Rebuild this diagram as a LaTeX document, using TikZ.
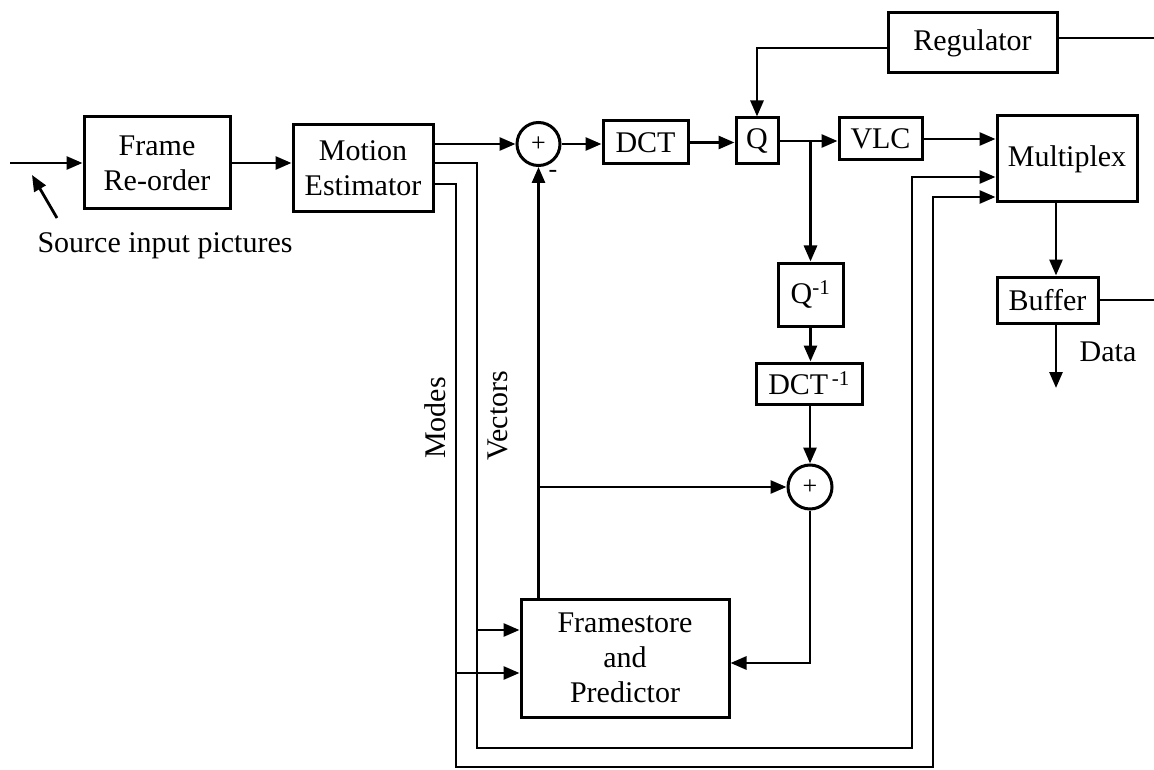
\documentclass[tikz,border=0pt]{standalone}
\usepackage{fontspec}
\setmainfont{Liberation Serif}
\usetikzlibrary{arrows.meta}
\begin{document}
\begin{tikzpicture}[x=1pt,y=-1pt,
  every node/.style={font=\fontsize{30}{35}\selectfont},
  blk/.style={draw,line width=3pt,inner sep=0pt,align=center},
  sumnode/.style={draw,circle,line width=3pt,inner sep=0pt,minimum size=43pt,font=\fontsize{26}{26}\selectfont},
  wire/.style={line width=2.8pt},
  arr/.style={wire,-{Triangle[length=16pt,width=13pt]}}]
\useasboundingbox[fill=white] (0,0) rectangle (1154,770);

% blocks
\node[blk,minimum width=146pt,minimum height=92pt] (FR) at (157,163) {Frame\\Re-order};
\node[blk,minimum width=140pt,minimum height=87pt] (ME) at (363,168.5) {Motion\\Estimator};
\node[sumnode] (A1) at (538.5,144) {+};
\node[blk,minimum width=85pt,minimum height=43pt] (DCT) at (645.5,142.5) {DCT};
\node[blk,minimum width=42pt,minimum height=46pt] (Q) at (757,141) {Q};
\node[blk,minimum width=83pt,minimum height=42pt] (VLC) at (880.5,139) {VLC};
\node[blk,minimum width=140pt,minimum height=86pt] (MUX) at (1067,159) {Multiplex};
\node[blk,minimum width=169pt,minimum height=60pt] (REG) at (972.5,43) {Regulator};
\node[blk,minimum width=101pt,minimum height=46pt] (BUF) at (1047.5,300) {Buffer};
\node[blk,minimum width=65pt,minimum height=63pt] (QI) at (810.5,294.5) {Q\textsuperscript{-1}};
\node[blk,minimum width=106pt,minimum height=41pt] (DCTI) at (809,383.5) {DCT\textsuperscript{\,-1}};
\node[sumnode,minimum size=44pt] (A2) at (810,487) {+};
\node[blk,minimum width=208pt,minimum height=118pt] (FS) at (625,658) {Framestore\\and\\Predictor};

% labels
\node[anchor=base] (src) at (165,253) {Source input pictures};
\node (data) at (1108,352) {Data};
\node[rotate=90] (modes) at (435,418) {Modes};
\node[rotate=90] (vectors) at (498,416) {Vectors};
\node[font=\fontsize{26}{26}\selectfont] (minus) at (553,174) {-};

% free-end coordinates
\coordinate (in) at (10,163);
\coordinate (srcA) at (57,218);
\coordinate (srcB) at (32,175);
\coordinate (regR) at (1154,38);
\coordinate (bufR) at (1154,300);
\coordinate (mb) at (1056,0);
\coordinate (dataE) at (1056,388);
\coordinate (v1) at (477,163);
\coordinate (v2) at (477,748);
\coordinate (v3) at (912,748);
\coordinate (v4) at (912,177);
\coordinate (vb) at (477,630);
\coordinate (m1) at (456,184);
\coordinate (m2) at (456,767);
\coordinate (m3) at (933,767);
\coordinate (m4) at (933,197);
\coordinate (mbr) at (456,673);

% forward path
\draw[arr] (in) -- (FR.west);
\draw[arr] (srcA) -- (srcB);
\draw[arr] (FR.east) -- (ME.west |- FR.east);
\draw[arr] (ME.east |- A1.west) -- (A1.west);
\draw[arr] (A1.east) -- (DCT.west |- A1.east);
\draw[arr] (DCT.east) -- (Q.west |- DCT.east);
\draw[arr] (Q.east) -- (VLC.west |- Q.east);
\draw[arr] (VLC.east) -- (MUX.west |- VLC.east);

% regulator
\draw[arr] ([yshift=-5pt]REG.west) -| (Q.north);
\draw[wire] (REG.east |- regR) -- (regR);

% multiplex / buffer
\draw[arr] (MUX.south -| mb) -- (BUF.north -| mb);
\draw[wire] (BUF.east) -- (bufR);
\draw[arr] (BUF.south -| mb) -- (dataE);

% inverse path
\draw[arr] (QI.north |- Q.east) -- (QI.north);
\draw[arr] (QI.south) -- (DCTI.north -| QI.south);
\draw[arr] (DCTI.south -| A2.north) -- (A2.north);
\draw[arr] (A2.south) |- ([yshift=-5pt]FS.east);
\draw[arr] (FS.north -| A1.south) -- (A1.south);
\draw[arr] (A1.south |- A2.west) -- (A2.west);

% vectors and modes
\draw[arr] (ME.east |- v1) -- (v1) -- (v2) -- (v3) -- (v4) -- (MUX.west |- v4);
\draw[arr] (vb) -- (FS.west |- vb);
\draw[arr] (ME.east |- m1) -- (m1) -- (m2) -- (m3) -- (m4) -- (MUX.west |- m4);
\draw[arr] (mbr) -- (FS.west |- mbr);
\end{tikzpicture}
\end{document}
